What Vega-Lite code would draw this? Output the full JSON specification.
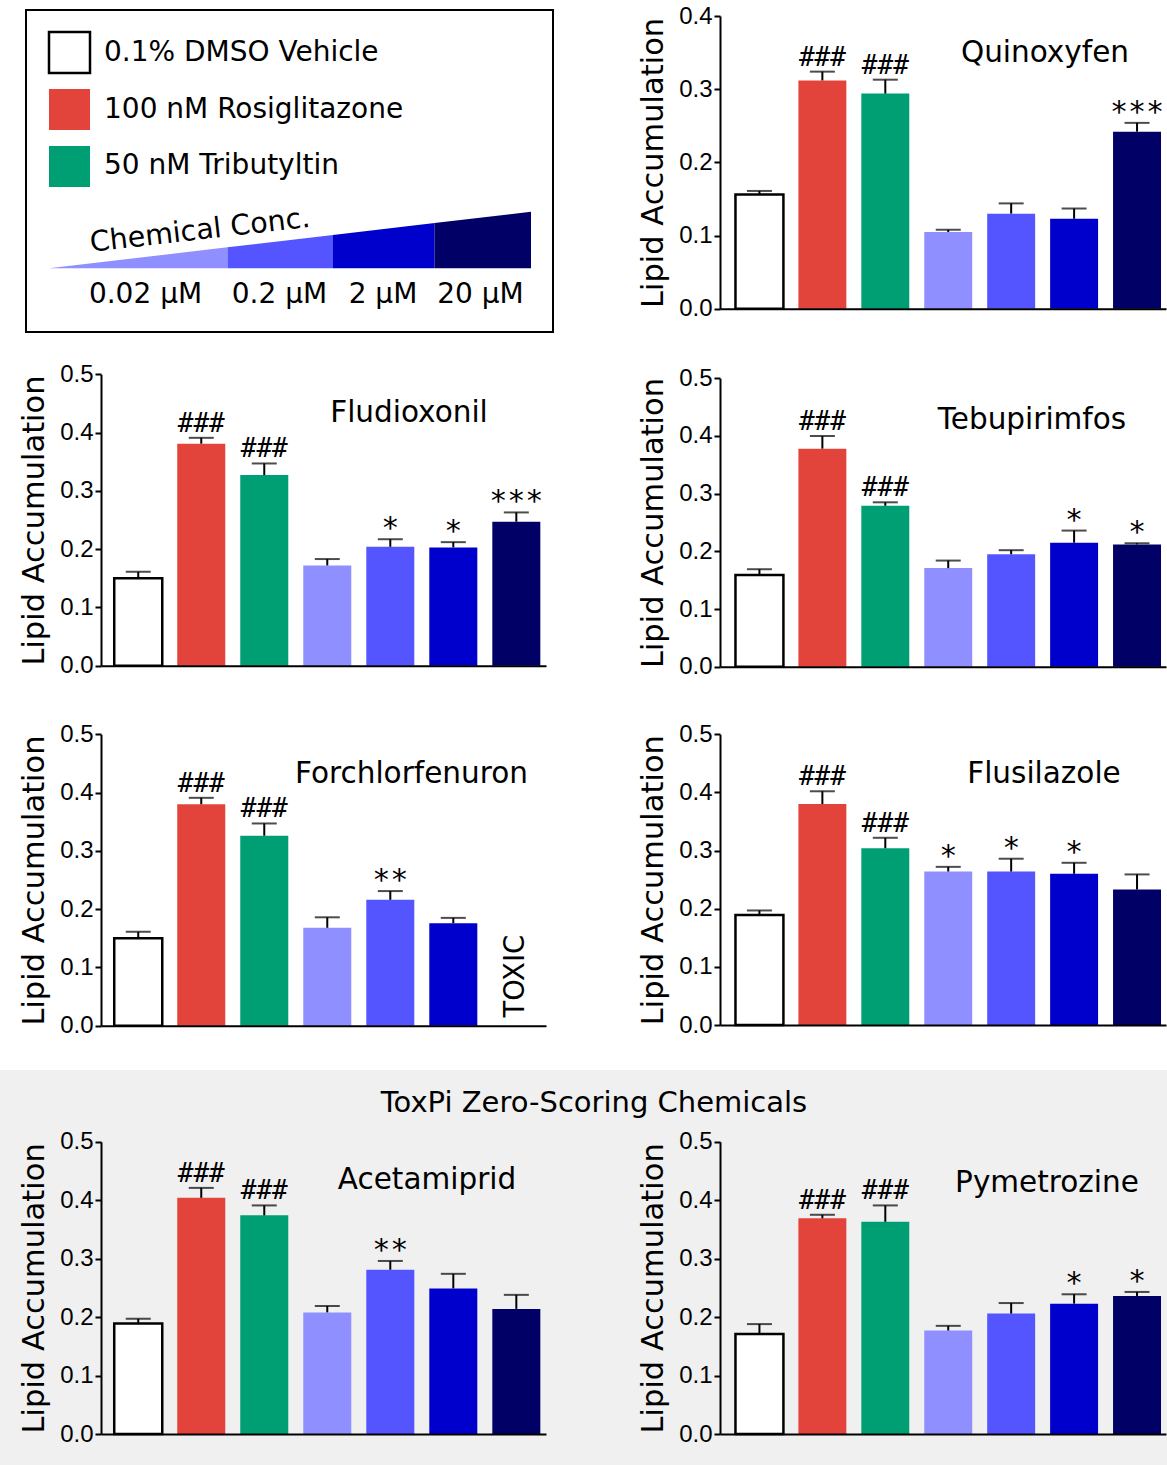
{
  "$schema": "https://vega.github.io/schema/vega-lite/v6.json",
  "padding": 0,
  "background": "white",
  "spacing": 0,
  "config": {
    "font": "DejaVu Sans",
    "view": {"stroke": null},
    "axis": {"grid": false, "labelFont": "Liberation Sans", "labelFontSize": 24, "labelColor": "black", "titleFont": "DejaVu Sans", "titleFontSize": 30.5, "titleFontWeight": "normal", "titleColor": "black", "domainColor": "black", "domainWidth": 2, "tickColor": "black", "tickWidth": 2, "tickSize": 6, "labelPadding": 2, "titlePadding": 10},
    "text": {"color": "black"}
  },
  "datasets": {
    "bars": [
      {"panel": "Quinoxyfen", "treatment": "DMSO", "value": 0.156, "err": 0.161},
      {"panel": "Quinoxyfen", "treatment": "Rosi", "value": 0.312, "err": 0.324, "hash": "###"},
      {"panel": "Quinoxyfen", "treatment": "TBT", "value": 0.294, "err": 0.313, "hash": "###"},
      {"panel": "Quinoxyfen", "treatment": "c1", "value": 0.105, "err": 0.108},
      {"panel": "Quinoxyfen", "treatment": "c2", "value": 0.130, "err": 0.144},
      {"panel": "Quinoxyfen", "treatment": "c3", "value": 0.123, "err": 0.137},
      {"panel": "Quinoxyfen", "treatment": "c4", "value": 0.242, "err": 0.254, "star": "∗∗∗"},
      {"panel": "Fludioxonil", "treatment": "DMSO", "value": 0.150, "err": 0.161},
      {"panel": "Fludioxonil", "treatment": "Rosi", "value": 0.381, "err": 0.391, "hash": "###"},
      {"panel": "Fludioxonil", "treatment": "TBT", "value": 0.327, "err": 0.347, "hash": "###"},
      {"panel": "Fludioxonil", "treatment": "c1", "value": 0.172, "err": 0.183},
      {"panel": "Fludioxonil", "treatment": "c2", "value": 0.204, "err": 0.217, "star": "∗"},
      {"panel": "Fludioxonil", "treatment": "c3", "value": 0.203, "err": 0.212, "star": "∗"},
      {"panel": "Fludioxonil", "treatment": "c4", "value": 0.247, "err": 0.263, "star": "∗∗∗"},
      {"panel": "Tebupirimfos", "treatment": "DMSO", "value": 0.159, "err": 0.169},
      {"panel": "Tebupirimfos", "treatment": "Rosi", "value": 0.378, "err": 0.400, "hash": "###"},
      {"panel": "Tebupirimfos", "treatment": "TBT", "value": 0.279, "err": 0.285, "hash": "###"},
      {"panel": "Tebupirimfos", "treatment": "c1", "value": 0.171, "err": 0.184},
      {"panel": "Tebupirimfos", "treatment": "c2", "value": 0.195, "err": 0.202},
      {"panel": "Tebupirimfos", "treatment": "c3", "value": 0.215, "err": 0.236, "star": "∗"},
      {"panel": "Tebupirimfos", "treatment": "c4", "value": 0.212, "err": 0.214, "star": "∗"},
      {"panel": "Forchlorfenuron", "treatment": "DMSO", "value": 0.150, "err": 0.161},
      {"panel": "Forchlorfenuron", "treatment": "Rosi", "value": 0.380, "err": 0.391, "hash": "###"},
      {"panel": "Forchlorfenuron", "treatment": "TBT", "value": 0.326, "err": 0.347, "hash": "###"},
      {"panel": "Forchlorfenuron", "treatment": "c1", "value": 0.168, "err": 0.186},
      {"panel": "Forchlorfenuron", "treatment": "c2", "value": 0.216, "err": 0.231, "star": "∗∗"},
      {"panel": "Forchlorfenuron", "treatment": "c3", "value": 0.176, "err": 0.185},
      {"panel": "Flusilazole", "treatment": "DMSO", "value": 0.189, "err": 0.197},
      {"panel": "Flusilazole", "treatment": "Rosi", "value": 0.380, "err": 0.402, "hash": "###"},
      {"panel": "Flusilazole", "treatment": "TBT", "value": 0.304, "err": 0.322, "hash": "###"},
      {"panel": "Flusilazole", "treatment": "c1", "value": 0.264, "err": 0.272, "star": "∗"},
      {"panel": "Flusilazole", "treatment": "c2", "value": 0.264, "err": 0.286, "star": "∗"},
      {"panel": "Flusilazole", "treatment": "c3", "value": 0.260, "err": 0.279, "star": "∗"},
      {"panel": "Flusilazole", "treatment": "c4", "value": 0.233, "err": 0.259},
      {"panel": "Acetamiprid", "treatment": "DMSO", "value": 0.189, "err": 0.197},
      {"panel": "Acetamiprid", "treatment": "Rosi", "value": 0.404, "err": 0.421, "hash": "###"},
      {"panel": "Acetamiprid", "treatment": "TBT", "value": 0.374, "err": 0.391, "hash": "###"},
      {"panel": "Acetamiprid", "treatment": "c1", "value": 0.208, "err": 0.219},
      {"panel": "Acetamiprid", "treatment": "c2", "value": 0.281, "err": 0.296, "star": "∗∗"},
      {"panel": "Acetamiprid", "treatment": "c3", "value": 0.249, "err": 0.274},
      {"panel": "Acetamiprid", "treatment": "c4", "value": 0.214, "err": 0.238},
      {"panel": "Pymetrozine", "treatment": "DMSO", "value": 0.171, "err": 0.188},
      {"panel": "Pymetrozine", "treatment": "Rosi", "value": 0.369, "err": 0.375, "hash": "###"},
      {"panel": "Pymetrozine", "treatment": "TBT", "value": 0.363, "err": 0.391, "hash": "###"},
      {"panel": "Pymetrozine", "treatment": "c1", "value": 0.177, "err": 0.185},
      {"panel": "Pymetrozine", "treatment": "c2", "value": 0.206, "err": 0.224},
      {"panel": "Pymetrozine", "treatment": "c3", "value": 0.223, "err": 0.239, "star": "∗"},
      {"panel": "Pymetrozine", "treatment": "c4", "value": 0.236, "err": 0.243, "star": "∗"}
    ],
    "legendItems": [
      {"label": "0.1% DMSO Vehicle", "treatment": "DMSO"},
      {"label": "100 nM Rosiglitazone", "treatment": "Rosi"},
      {"label": "50 nM Tributyltin", "treatment": "TBT"}
    ],
    "wedge": [
      {"treatment": "c1", "u": 23, "v": 258.3},
      {"treatment": "c1", "u": 201.5, "v": 237.3},
      {"treatment": "c2", "u": 201.5, "v": 237.3},
      {"treatment": "c2", "u": 307, "v": 225.0},
      {"treatment": "c3", "u": 307, "v": 225.0},
      {"treatment": "c3", "u": 408.6, "v": 213.0},
      {"treatment": "c4", "u": 408.6, "v": 213.0},
      {"treatment": "c4", "u": 505, "v": 201.7}
    ]
  },
  "vconcat": [
    {
      "width": 1167,
      "height": 1070,
      "resolve": {"scale": {"x": "independent", "y": "independent"}, "axis": {"x": "independent", "y": "independent"}},
      "layer": [
        {
          "layer": [
            {"data": {"values": [{}]}, "mark": {"type": "rect", "fill": "transparent", "stroke": "black", "strokeWidth": 2},
             "encoding": {"x": {"datum": 0, "type": "quantitative", "scale": {"domain": [0, 527], "range": [26, 553], "nice": false, "zero": false}, "axis": null}, "x2": {"datum": 527},
                          "y": {"datum": 0, "type": "quantitative", "scale": {"domain": [0, 322], "range": [10, 332], "nice": false, "zero": false}, "axis": null}, "y2": {"datum": 322}}},
            {"data": {"name": "wedge"}, "mark": {"type": "area", "interpolate": "linear"},
             "encoding": {"x": {"field": "u", "type": "quantitative", "scale": {"domain": [0, 527], "range": [26, 553], "nice": false, "zero": false}, "axis": null},
                          "y": {"field": "v", "type": "quantitative", "stack": null, "scale": {"domain": [0, 322], "range": [10, 332], "nice": false, "zero": false}, "axis": null},
                          "y2": {"datum": 258.3},
                          "fill": {"field": "treatment", "type": "nominal", "scale": {"domain": ["DMSO", "Rosi", "TBT", "c1", "c2", "c3", "c4"], "range": ["#ffffff", "#e2433a", "#009e73", "#8f8fff", "#5555ff", "#0000cc", "#000066"]}, "legend": null}}},
            {"data": {"values": [{"t": "Chemical Conc."}]}, "mark": {"type": "text", "align": "left", "baseline": "alphabetic", "angle": 353.5, "fontSize": 28.5},
             "encoding": {"x": {"datum": 65, "type": "quantitative", "axis": null}, "y": {"datum": 241.7, "type": "quantitative", "axis": null}, "text": {"field": "t", "type": "nominal"}}},
            {"data": {"values": [{"t": "0.02 µM"}]}, "mark": {"type": "text", "align": "center", "baseline": "alphabetic", "fontSize": 28},
             "encoding": {"x": {"datum": 119.5, "type": "quantitative", "axis": null}, "y": {"datum": 293.3, "type": "quantitative", "axis": null}, "text": {"field": "t", "type": "nominal"}}},
            {"data": {"values": [{"t": "0.2 µM"}]}, "mark": {"type": "text", "align": "center", "baseline": "alphabetic", "fontSize": 28},
             "encoding": {"x": {"datum": 253.5, "type": "quantitative", "axis": null}, "y": {"datum": 293.3, "type": "quantitative", "axis": null}, "text": {"field": "t", "type": "nominal"}}},
            {"data": {"values": [{"t": "2 µM"}]}, "mark": {"type": "text", "align": "center", "baseline": "alphabetic", "fontSize": 28},
             "encoding": {"x": {"datum": 357, "type": "quantitative", "axis": null}, "y": {"datum": 293.3, "type": "quantitative", "axis": null}, "text": {"field": "t", "type": "nominal"}}},
            {"data": {"values": [{"t": "20 µM"}]}, "mark": {"type": "text", "align": "center", "baseline": "alphabetic", "fontSize": 28},
             "encoding": {"x": {"datum": 454.5, "type": "quantitative", "axis": null}, "y": {"datum": 293.3, "type": "quantitative", "axis": null}, "text": {"field": "t", "type": "nominal"}}}
          ]
        },
        {
          "data": {"name": "legendItems"},
          "encoding": {"y": {"field": "label", "type": "nominal", "sort": null, "scale": {"domain": ["0.1% DMSO Vehicle", "100 nM Rosiglitazone", "50 nM Tributyltin"], "range": [32, 187], "paddingInner": 0.28, "paddingOuter": 0}, "axis": null}},
          "layer": [
            {"mark": {"type": "rect", "strokeWidth": 2.5},
             "encoding": {"x": {"datum": 23, "type": "quantitative", "scale": {"domain": [0, 527], "range": [26, 553], "nice": false, "zero": false}, "axis": null}, "x2": {"datum": 64},
                          "fill": {"field": "treatment", "type": "nominal", "scale": {"domain": ["DMSO", "Rosi", "TBT", "c1", "c2", "c3", "c4"], "range": ["#ffffff", "#e2433a", "#009e73", "#8f8fff", "#5555ff", "#0000cc", "#000066"]}, "legend": null},
                          "stroke": {"condition": {"test": "datum.treatment === 'DMSO'", "value": "black"}, "value": "transparent"}}},
            {"mark": {"type": "text", "align": "left", "baseline": "middle", "fontSize": 28},
             "encoding": {"x": {"datum": 78, "type": "quantitative", "scale": {"domain": [0, 527], "range": [26, 553], "nice": false, "zero": false}, "axis": null}, "text": {"field": "label", "type": "nominal"}}}
          ]
        },
        {
          "data": {"name": "bars"},
          "transform": [{"filter": "datum.panel === 'Quinoxyfen'"}],
          "encoding": {"x": {"field": "treatment", "type": "nominal", "scale": {"domain": ["DMSO", "Rosi", "TBT", "c1", "c2", "c3", "c4"], "range": [720, 1166], "paddingInner": 0.238, "paddingOuter": 0.1625, "align": 0.756}, "axis": {"orient": "bottom", "offset": -761.2, "labels": false, "ticks": false, "title": null, "zindex": 1}}},
          "layer": [
            {"mark": {"type": "bar", "strokeWidth": 2.5},
             "encoding": {"y": {"field": "value", "type": "quantitative", "scale": {"domain": [0, 0.4], "range": [308.8, 16], "nice": false, "zero": false}, "axis": {"orient": "left", "offset": -720, "values": [0, 0.1, 0.2, 0.3, 0.4], "format": ".1f", "title": "Lipid Accumulation"}},
                          "fill": {"field": "treatment", "type": "nominal", "scale": {"domain": ["DMSO", "Rosi", "TBT", "c1", "c2", "c3", "c4"], "range": ["#ffffff", "#e2433a", "#009e73", "#8f8fff", "#5555ff", "#0000cc", "#000066"]}, "legend": null},
                          "stroke": {"condition": {"test": "datum.treatment === 'DMSO'", "value": "black"}, "value": "transparent"}}},
            {"mark": {"type": "rule", "color": "black", "strokeWidth": 2},
             "encoding": {"y": {"field": "value", "type": "quantitative", "scale": {"domain": [0, 0.4], "range": [308.8, 16], "nice": false, "zero": false}}, "y2": {"field": "err"}}},
            {"mark": {"type": "tick", "color": "black", "size": 25, "thickness": 2},
             "encoding": {"y": {"field": "err", "type": "quantitative", "scale": {"domain": [0, 0.4], "range": [308.8, 16], "nice": false, "zero": false}}}},
            {"transform": [{"filter": "datum.hash"}], "mark": {"type": "text", "font": "DejaVu Sans Mono", "fontSize": 26, "dy": -6, "baseline": "alphabetic"},
             "encoding": {"y": {"field": "err", "type": "quantitative", "scale": {"domain": [0, 0.4], "range": [308.8, 16], "nice": false, "zero": false}}, "text": {"field": "hash", "type": "nominal"}}},
            {"transform": [{"filter": "datum.star"}], "mark": {"type": "text", "font": "DejaVu Sans Mono", "fontSize": 30, "dy": -7, "baseline": "alphabetic"},
             "encoding": {"y": {"field": "err", "type": "quantitative", "scale": {"domain": [0, 0.4], "range": [308.8, 16], "nice": false, "zero": false}}, "text": {"field": "star", "type": "nominal"}}},
            {"data": {"values": [{"title": "Quinoxyfen"}]}, "mark": {"type": "text", "fontSize": 29.5, "dx": 33.8, "baseline": "alphabetic"},
             "encoding": {"x": {"datum": "c2", "type": "nominal"}, "y": {"datum": 0.3367, "type": "quantitative"}, "text": {"field": "title", "type": "nominal"}}}
          ]
        },
        {
          "data": {"name": "bars"},
          "transform": [{"filter": "datum.panel === 'Fludioxonil'"}],
          "encoding": {"x": {"field": "treatment", "type": "nominal", "scale": {"domain": ["DMSO", "Rosi", "TBT", "c1", "c2", "c3", "c4"], "range": [101, 546], "paddingInner": 0.238, "paddingOuter": 0.15, "align": 0.7}, "axis": {"orient": "bottom", "offset": -404.3, "labels": false, "ticks": false, "title": null, "zindex": 1}}},
          "layer": [
            {"mark": {"type": "bar", "strokeWidth": 2.5},
             "encoding": {"y": {"field": "value", "type": "quantitative", "scale": {"domain": [0, 0.5], "range": [665.7, 374.3], "nice": false, "zero": false}, "axis": {"orient": "left", "offset": -101, "values": [0, 0.1, 0.2, 0.3, 0.4, 0.5], "format": ".1f", "title": "Lipid Accumulation"}},
                          "fill": {"field": "treatment", "type": "nominal", "scale": {"domain": ["DMSO", "Rosi", "TBT", "c1", "c2", "c3", "c4"], "range": ["#ffffff", "#e2433a", "#009e73", "#8f8fff", "#5555ff", "#0000cc", "#000066"]}, "legend": null},
                          "stroke": {"condition": {"test": "datum.treatment === 'DMSO'", "value": "black"}, "value": "transparent"}}},
            {"mark": {"type": "rule", "color": "black", "strokeWidth": 2},
             "encoding": {"y": {"field": "value", "type": "quantitative", "scale": {"domain": [0, 0.5], "range": [665.7, 374.3], "nice": false, "zero": false}}, "y2": {"field": "err"}}},
            {"mark": {"type": "tick", "color": "black", "size": 25, "thickness": 2},
             "encoding": {"y": {"field": "err", "type": "quantitative", "scale": {"domain": [0, 0.5], "range": [665.7, 374.3], "nice": false, "zero": false}}}},
            {"transform": [{"filter": "datum.hash"}], "mark": {"type": "text", "font": "DejaVu Sans Mono", "fontSize": 26, "dy": -6, "baseline": "alphabetic"},
             "encoding": {"y": {"field": "err", "type": "quantitative", "scale": {"domain": [0, 0.5], "range": [665.7, 374.3], "nice": false, "zero": false}}, "text": {"field": "hash", "type": "nominal"}}},
            {"transform": [{"filter": "datum.star"}], "mark": {"type": "text", "font": "DejaVu Sans Mono", "fontSize": 30, "dy": -7, "baseline": "alphabetic"},
             "encoding": {"y": {"field": "err", "type": "quantitative", "scale": {"domain": [0, 0.5], "range": [665.7, 374.3], "nice": false, "zero": false}}, "text": {"field": "star", "type": "nominal"}}},
            {"data": {"values": [{"title": "Fludioxonil"}]}, "mark": {"type": "text", "fontSize": 29.5, "dx": 18.7, "baseline": "alphabetic"},
             "encoding": {"x": {"datum": "c2", "type": "nominal"}, "y": {"datum": 0.4177, "type": "quantitative"}, "text": {"field": "title", "type": "nominal"}}}
          ]
        },
        {
          "data": {"name": "bars"},
          "transform": [{"filter": "datum.panel === 'Tebupirimfos'"}],
          "encoding": {"x": {"field": "treatment", "type": "nominal", "scale": {"domain": ["DMSO", "Rosi", "TBT", "c1", "c2", "c3", "c4"], "range": [720, 1166], "paddingInner": 0.238, "paddingOuter": 0.1625, "align": 0.756}, "axis": {"orient": "bottom", "offset": -403.3, "labels": false, "ticks": false, "title": null, "zindex": 1}}},
          "layer": [
            {"mark": {"type": "bar", "strokeWidth": 2.5},
             "encoding": {"y": {"field": "value", "type": "quantitative", "scale": {"domain": [0, 0.5], "range": [666.7, 378.3], "nice": false, "zero": false}, "axis": {"orient": "left", "offset": -720, "values": [0, 0.1, 0.2, 0.3, 0.4, 0.5], "format": ".1f", "title": "Lipid Accumulation"}},
                          "fill": {"field": "treatment", "type": "nominal", "scale": {"domain": ["DMSO", "Rosi", "TBT", "c1", "c2", "c3", "c4"], "range": ["#ffffff", "#e2433a", "#009e73", "#8f8fff", "#5555ff", "#0000cc", "#000066"]}, "legend": null},
                          "stroke": {"condition": {"test": "datum.treatment === 'DMSO'", "value": "black"}, "value": "transparent"}}},
            {"mark": {"type": "rule", "color": "black", "strokeWidth": 2},
             "encoding": {"y": {"field": "value", "type": "quantitative", "scale": {"domain": [0, 0.5], "range": [666.7, 378.3], "nice": false, "zero": false}}, "y2": {"field": "err"}}},
            {"mark": {"type": "tick", "color": "black", "size": 25, "thickness": 2},
             "encoding": {"y": {"field": "err", "type": "quantitative", "scale": {"domain": [0, 0.5], "range": [666.7, 378.3], "nice": false, "zero": false}}}},
            {"transform": [{"filter": "datum.hash"}], "mark": {"type": "text", "font": "DejaVu Sans Mono", "fontSize": 26, "dy": -6, "baseline": "alphabetic"},
             "encoding": {"y": {"field": "err", "type": "quantitative", "scale": {"domain": [0, 0.5], "range": [666.7, 378.3], "nice": false, "zero": false}}, "text": {"field": "hash", "type": "nominal"}}},
            {"transform": [{"filter": "datum.star"}], "mark": {"type": "text", "font": "DejaVu Sans Mono", "fontSize": 30, "dy": -7, "baseline": "alphabetic"},
             "encoding": {"y": {"field": "err", "type": "quantitative", "scale": {"domain": [0, 0.5], "range": [666.7, 378.3], "nice": false, "zero": false}}, "text": {"field": "star", "type": "nominal"}}},
            {"data": {"values": [{"title": "Tebupirimfos"}]}, "mark": {"type": "text", "fontSize": 29.5, "dx": 20.8, "baseline": "alphabetic"},
             "encoding": {"x": {"datum": "c2", "type": "nominal"}, "y": {"datum": 0.4117, "type": "quantitative"}, "text": {"field": "title", "type": "nominal"}}}
          ]
        },
        {
          "data": {"name": "bars"},
          "transform": [{"filter": "datum.panel === 'Forchlorfenuron'"}],
          "encoding": {"x": {"field": "treatment", "type": "nominal", "scale": {"domain": ["DMSO", "Rosi", "TBT", "c1", "c2", "c3", "c4"], "range": [101, 546], "paddingInner": 0.238, "paddingOuter": 0.15, "align": 0.7}, "axis": {"orient": "bottom", "offset": -44.3, "labels": false, "ticks": false, "title": null, "zindex": 1}}},
          "layer": [
            {"mark": {"type": "bar", "strokeWidth": 2.5},
             "encoding": {"y": {"field": "value", "type": "quantitative", "scale": {"domain": [0, 0.5], "range": [1025.7, 734.3], "nice": false, "zero": false}, "axis": {"orient": "left", "offset": -101, "values": [0, 0.1, 0.2, 0.3, 0.4, 0.5], "format": ".1f", "title": "Lipid Accumulation"}},
                          "fill": {"field": "treatment", "type": "nominal", "scale": {"domain": ["DMSO", "Rosi", "TBT", "c1", "c2", "c3", "c4"], "range": ["#ffffff", "#e2433a", "#009e73", "#8f8fff", "#5555ff", "#0000cc", "#000066"]}, "legend": null},
                          "stroke": {"condition": {"test": "datum.treatment === 'DMSO'", "value": "black"}, "value": "transparent"}}},
            {"mark": {"type": "rule", "color": "black", "strokeWidth": 2},
             "encoding": {"y": {"field": "value", "type": "quantitative", "scale": {"domain": [0, 0.5], "range": [1025.7, 734.3], "nice": false, "zero": false}}, "y2": {"field": "err"}}},
            {"mark": {"type": "tick", "color": "black", "size": 25, "thickness": 2},
             "encoding": {"y": {"field": "err", "type": "quantitative", "scale": {"domain": [0, 0.5], "range": [1025.7, 734.3], "nice": false, "zero": false}}}},
            {"transform": [{"filter": "datum.hash"}], "mark": {"type": "text", "font": "DejaVu Sans Mono", "fontSize": 26, "dy": -6, "baseline": "alphabetic"},
             "encoding": {"y": {"field": "err", "type": "quantitative", "scale": {"domain": [0, 0.5], "range": [1025.7, 734.3], "nice": false, "zero": false}}, "text": {"field": "hash", "type": "nominal"}}},
            {"transform": [{"filter": "datum.star"}], "mark": {"type": "text", "font": "DejaVu Sans Mono", "fontSize": 30, "dy": -7, "baseline": "alphabetic"},
             "encoding": {"y": {"field": "err", "type": "quantitative", "scale": {"domain": [0, 0.5], "range": [1025.7, 734.3], "nice": false, "zero": false}}, "text": {"field": "star", "type": "nominal"}}},
            {"data": {"values": [{"title": "Forchlorfenuron"}]}, "mark": {"type": "text", "fontSize": 29.5, "dx": 21.2, "baseline": "alphabetic"},
             "encoding": {"x": {"datum": "c2", "type": "nominal"}, "y": {"datum": 0.416, "type": "quantitative"}, "text": {"field": "title", "type": "nominal"}}},
            {"data": {"values": [{"title": "TOXIC"}]}, "mark": {"type": "text", "fontSize": 27.5, "angle": 270, "align": "center", "baseline": "middle"},
             "encoding": {"x": {"datum": "c4", "type": "nominal"}, "y": {"datum": 0.085, "type": "quantitative"}, "text": {"field": "title", "type": "nominal"}}}
          ]
        },
        {
          "data": {"name": "bars"},
          "transform": [{"filter": "datum.panel === 'Flusilazole'"}],
          "encoding": {"x": {"field": "treatment", "type": "nominal", "scale": {"domain": ["DMSO", "Rosi", "TBT", "c1", "c2", "c3", "c4"], "range": [720, 1166], "paddingInner": 0.238, "paddingOuter": 0.1625, "align": 0.756}, "axis": {"orient": "bottom", "offset": -45, "labels": false, "ticks": false, "title": null, "zindex": 1}}},
          "layer": [
            {"mark": {"type": "bar", "strokeWidth": 2.5},
             "encoding": {"y": {"field": "value", "type": "quantitative", "scale": {"domain": [0, 0.5], "range": [1025, 734.3], "nice": false, "zero": false}, "axis": {"orient": "left", "offset": -720, "values": [0, 0.1, 0.2, 0.3, 0.4, 0.5], "format": ".1f", "title": "Lipid Accumulation"}},
                          "fill": {"field": "treatment", "type": "nominal", "scale": {"domain": ["DMSO", "Rosi", "TBT", "c1", "c2", "c3", "c4"], "range": ["#ffffff", "#e2433a", "#009e73", "#8f8fff", "#5555ff", "#0000cc", "#000066"]}, "legend": null},
                          "stroke": {"condition": {"test": "datum.treatment === 'DMSO'", "value": "black"}, "value": "transparent"}}},
            {"mark": {"type": "rule", "color": "black", "strokeWidth": 2},
             "encoding": {"y": {"field": "value", "type": "quantitative", "scale": {"domain": [0, 0.5], "range": [1025, 734.3], "nice": false, "zero": false}}, "y2": {"field": "err"}}},
            {"mark": {"type": "tick", "color": "black", "size": 25, "thickness": 2},
             "encoding": {"y": {"field": "err", "type": "quantitative", "scale": {"domain": [0, 0.5], "range": [1025, 734.3], "nice": false, "zero": false}}}},
            {"transform": [{"filter": "datum.hash"}], "mark": {"type": "text", "font": "DejaVu Sans Mono", "fontSize": 26, "dy": -6, "baseline": "alphabetic"},
             "encoding": {"y": {"field": "err", "type": "quantitative", "scale": {"domain": [0, 0.5], "range": [1025, 734.3], "nice": false, "zero": false}}, "text": {"field": "hash", "type": "nominal"}}},
            {"transform": [{"filter": "datum.star"}], "mark": {"type": "text", "font": "DejaVu Sans Mono", "fontSize": 30, "dy": -7, "baseline": "alphabetic"},
             "encoding": {"y": {"field": "err", "type": "quantitative", "scale": {"domain": [0, 0.5], "range": [1025, 734.3], "nice": false, "zero": false}}, "text": {"field": "star", "type": "nominal"}}},
            {"data": {"values": [{"title": "Flusilazole"}]}, "mark": {"type": "text", "fontSize": 29.5, "dx": 32.8, "baseline": "alphabetic"},
             "encoding": {"x": {"datum": "c2", "type": "nominal"}, "y": {"datum": 0.4157, "type": "quantitative"}, "text": {"field": "title", "type": "nominal"}}}
          ]
        }
      ]
    },
    {
      "width": 1167,
      "height": 395,
      "view": {"fill": "#f0f0f0", "stroke": null},
      "resolve": {"scale": {"x": "independent", "y": "independent"}, "axis": {"x": "independent", "y": "independent"}},
      "layer": [
        {
          "data": {"name": "bars"},
          "transform": [{"filter": "datum.panel === 'Acetamiprid'"}],
          "encoding": {"x": {"field": "treatment", "type": "nominal", "scale": {"domain": ["DMSO", "Rosi", "TBT", "c1", "c2", "c3", "c4"], "range": [101, 546], "paddingInner": 0.238, "paddingOuter": 0.15, "align": 0.7}, "axis": {"orient": "bottom", "offset": -31, "labels": false, "ticks": false, "title": null, "zindex": 1}}},
          "layer": [
            {"mark": {"type": "bar", "strokeWidth": 2.5},
             "encoding": {"y": {"field": "value", "type": "quantitative", "scale": {"domain": [0, 0.5], "range": [364, 71.7], "nice": false, "zero": false}, "axis": {"orient": "left", "offset": -101, "values": [0, 0.1, 0.2, 0.3, 0.4, 0.5], "format": ".1f", "title": "Lipid Accumulation"}},
                          "fill": {"field": "treatment", "type": "nominal", "scale": {"domain": ["DMSO", "Rosi", "TBT", "c1", "c2", "c3", "c4"], "range": ["#ffffff", "#e2433a", "#009e73", "#8f8fff", "#5555ff", "#0000cc", "#000066"]}, "legend": null},
                          "stroke": {"condition": {"test": "datum.treatment === 'DMSO'", "value": "black"}, "value": "transparent"}}},
            {"mark": {"type": "rule", "color": "black", "strokeWidth": 2},
             "encoding": {"y": {"field": "value", "type": "quantitative", "scale": {"domain": [0, 0.5], "range": [364, 71.7], "nice": false, "zero": false}}, "y2": {"field": "err"}}},
            {"mark": {"type": "tick", "color": "black", "size": 25, "thickness": 2},
             "encoding": {"y": {"field": "err", "type": "quantitative", "scale": {"domain": [0, 0.5], "range": [364, 71.7], "nice": false, "zero": false}}}},
            {"transform": [{"filter": "datum.hash"}], "mark": {"type": "text", "font": "DejaVu Sans Mono", "fontSize": 26, "dy": -6, "baseline": "alphabetic"},
             "encoding": {"y": {"field": "err", "type": "quantitative", "scale": {"domain": [0, 0.5], "range": [364, 71.7], "nice": false, "zero": false}}, "text": {"field": "hash", "type": "nominal"}}},
            {"transform": [{"filter": "datum.star"}], "mark": {"type": "text", "font": "DejaVu Sans Mono", "fontSize": 30, "dy": -7, "baseline": "alphabetic"},
             "encoding": {"y": {"field": "err", "type": "quantitative", "scale": {"domain": [0, 0.5], "range": [364, 71.7], "nice": false, "zero": false}}, "text": {"field": "star", "type": "nominal"}}},
            {"data": {"values": [{"title": "Acetamiprid"}]}, "mark": {"type": "text", "fontSize": 29.5, "dx": 36.7, "baseline": "alphabetic"},
             "encoding": {"x": {"datum": "c2", "type": "nominal"}, "y": {"datum": 0.4186, "type": "quantitative"}, "text": {"field": "title", "type": "nominal"}}},
            {"data": {"values": [{"title": "ToxPi Zero-Scoring Chemicals"}]}, "mark": {"type": "text", "fontSize": 29, "dx": 77.7, "baseline": "alphabetic"},
             "encoding": {"x": {"datum": "c4", "type": "nominal"}, "y": {"datum": 0.5513, "type": "quantitative"}, "text": {"field": "title", "type": "nominal"}}}
          ]
        },
        {
          "data": {"name": "bars"},
          "transform": [{"filter": "datum.panel === 'Pymetrozine'"}],
          "encoding": {"x": {"field": "treatment", "type": "nominal", "scale": {"domain": ["DMSO", "Rosi", "TBT", "c1", "c2", "c3", "c4"], "range": [720, 1166], "paddingInner": 0.238, "paddingOuter": 0.1625, "align": 0.756}, "axis": {"orient": "bottom", "offset": -31, "labels": false, "ticks": false, "title": null, "zindex": 1}}},
          "layer": [
            {"mark": {"type": "bar", "strokeWidth": 2.5},
             "encoding": {"y": {"field": "value", "type": "quantitative", "scale": {"domain": [0, 0.5], "range": [364, 71.7], "nice": false, "zero": false}, "axis": {"orient": "left", "offset": -720, "values": [0, 0.1, 0.2, 0.3, 0.4, 0.5], "format": ".1f", "title": "Lipid Accumulation"}},
                          "fill": {"field": "treatment", "type": "nominal", "scale": {"domain": ["DMSO", "Rosi", "TBT", "c1", "c2", "c3", "c4"], "range": ["#ffffff", "#e2433a", "#009e73", "#8f8fff", "#5555ff", "#0000cc", "#000066"]}, "legend": null},
                          "stroke": {"condition": {"test": "datum.treatment === 'DMSO'", "value": "black"}, "value": "transparent"}}},
            {"mark": {"type": "rule", "color": "black", "strokeWidth": 2},
             "encoding": {"y": {"field": "value", "type": "quantitative", "scale": {"domain": [0, 0.5], "range": [364, 71.7], "nice": false, "zero": false}}, "y2": {"field": "err"}}},
            {"mark": {"type": "tick", "color": "black", "size": 25, "thickness": 2},
             "encoding": {"y": {"field": "err", "type": "quantitative", "scale": {"domain": [0, 0.5], "range": [364, 71.7], "nice": false, "zero": false}}}},
            {"transform": [{"filter": "datum.hash"}], "mark": {"type": "text", "font": "DejaVu Sans Mono", "fontSize": 26, "dy": -6, "baseline": "alphabetic"},
             "encoding": {"y": {"field": "err", "type": "quantitative", "scale": {"domain": [0, 0.5], "range": [364, 71.7], "nice": false, "zero": false}}, "text": {"field": "hash", "type": "nominal"}}},
            {"transform": [{"filter": "datum.star"}], "mark": {"type": "text", "font": "DejaVu Sans Mono", "fontSize": 30, "dy": -7, "baseline": "alphabetic"},
             "encoding": {"y": {"field": "err", "type": "quantitative", "scale": {"domain": [0, 0.5], "range": [364, 71.7], "nice": false, "zero": false}}, "text": {"field": "star", "type": "nominal"}}},
            {"data": {"values": [{"title": "Pymetrozine"}]}, "mark": {"type": "text", "fontSize": 29.5, "dx": 35.8, "baseline": "alphabetic"},
             "encoding": {"x": {"datum": "c2", "type": "nominal"}, "y": {"datum": 0.4145, "type": "quantitative"}, "text": {"field": "title", "type": "nominal"}}}
          ]
        }
      ]
    }
  ]
}
